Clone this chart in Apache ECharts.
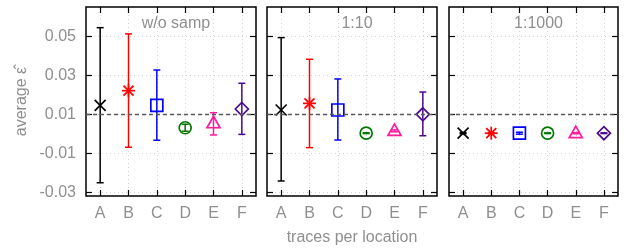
<!DOCTYPE html>
<html>
<head>
<meta charset="utf-8">
<script src="https://cdn.jsdelivr.net/npm/echarts@6/dist/echarts.min.js"></script>
<style>html,body{margin:0;padding:0;background:#fff}#c{width:626px;height:251px}</style>
</head>
<body>
<div id="c"></div>
<script>
const CATEGORIES = ['A', 'B', 'C', 'D', 'E', 'F'];
const PANEL_TITLES = ['w/o samp', '1:10', '1:1000'];
const Y_TICKS = [-0.03, -0.01, 0.01, 0.03, 0.05];
const REF_VALUE = 0.01;

const MEAN_WO = [0.0146, 0.0221, 0.0146, 0.0031, 0.0054, 0.0127];
const LOW_WO  = [-0.0251, -0.0069, -0.0033, 0.0013, -0.0006, -0.0003];
const HIGH_WO = [0.0544, 0.0512, 0.0327, 0.0049, 0.0108, 0.0259];

const MEAN_10 = [0.0122, 0.0156, 0.0122, 0.0003, 0.0015, 0.0100];
const LOW_10  = [-0.0242, -0.0071, -0.0032, 0.0001, 0.0010, -0.0010];
const HIGH_10 = [0.0493, 0.0382, 0.0281, 0.0005, 0.0020, 0.0214];

const MEAN_1000 = [0.0003, 0.0003, 0.0003, 0.0003, 0.0003, 0.0003];
const LOW_1000  = [0.0000, 0.0000, -0.0002, 0.0001, 0.0000, 0.0001];
const HIGH_1000 = [0.0006, 0.0006, 0.0008, 0.0005, 0.0006, 0.0005];

const PANELS = [
  [MEAN_WO, LOW_WO, HIGH_WO],
  [MEAN_10, LOW_10, HIGH_10],
  [MEAN_1000, LOW_1000, HIGH_1000]
];

const COLORS = ['#000000', '#ff0000', '#0000ff', '#007800', '#ff1a9c', '#4b0a8c'];
const SHAPES = ['cross', 'star', 'square', 'circle', 'triangle', 'diamond'];

const X_TICKS = CATEGORIES.map((c, i) => i);
const GRID_LEFT = [86, 267, 449];
const GRID_WIDTH = [170, 170, 169];
const FONT = 'Liberation Sans, Arial, Helvetica, sans-serif';
const TXT = '#8f8f8f';
const Y_MIN = -0.0319, Y_MAX = 0.065;

function marker(shape, x, y, color) {
  const st = { stroke: color, lineWidth: 1.7, fill: 'none' };
  const L = (x1, y1, x2, y2) => ({ type: 'line', shape: { x1: x + x1, y1: y + y1, x2: x + x2, y2: y + y2 }, style: st });
  switch (shape) {
    case 'cross': return [L(-5.5, -5.5, 5.5, 5.5), L(-5.5, 5.5, 5.5, -5.5)];
    case 'star': return [L(-6.5, 0, 6.5, 0), L(0, -6.5, 0, 6.5), L(-5, -5, 5, 5), L(-5, 5, 5, -5)];
    case 'square': return [{ type: 'rect', shape: { x: x - 6, y: y - 6, width: 12, height: 12 }, style: st }];
    case 'circle': return [{ type: 'circle', shape: { cx: x, cy: y, r: 6 }, style: st }];
    case 'triangle': return [{ type: 'polygon', shape: { points: [[x, y - 7], [x + 6.5, y + 4.5], [x - 6.5, y + 4.5]] }, style: st }];
    case 'diamond': return [{ type: 'polygon', shape: { points: [[x, y - 6.5], [x + 6.5, y], [x, y + 6.5], [x - 6.5, y]] }, style: st }];
  }
  return [];
}

function renderItem(params, api) {
  const i = api.value(0);
  const m = api.coord([i, api.value(1)]);
  const lo = api.coord([i, api.value(2)]);
  const hi = api.coord([i, api.value(3)]);
  const color = COLORS[i];
  const st = { stroke: color, lineWidth: 1.5, fill: 'none' };
  const cap = 3.5;
  const children = [
    { type: 'line', shape: { x1: m[0], y1: hi[1], x2: m[0], y2: lo[1] }, style: st },
    { type: 'line', shape: { x1: m[0] - cap, y1: hi[1], x2: m[0] + cap, y2: hi[1] }, style: st },
    { type: 'line', shape: { x1: m[0] - cap, y1: lo[1], x2: m[0] + cap, y2: lo[1] }, style: st }
  ].concat(marker(SHAPES[i], m[0], m[1], color));
  return { type: 'group', children };
}

const grids = [], xAxes = [], yAxes = [], series = [], titles = [];
const tickStyle = { color: '#000', width: 1.2 };
const gridLine = { show: true, lineStyle: { type: [1, 3], color: '#d4d4d4', width: 1 } };
PANELS.forEach((panel, p) => {
  grids.push({ left: GRID_LEFT[p], width: GRID_WIDTH[p], top: 7, height: 189, show: true, borderColor: '#000', borderWidth: 1.5, backgroundColor: 'transparent' });
  titles.push({ text: PANEL_TITLES[p], left: GRID_LEFT[p] + GRID_WIDTH[p] / 2, top: 11, textAlign: 'center',
    textStyle: { color: TXT, fontSize: 16, fontWeight: 'normal', fontFamily: FONT } });
  const xBase = { type: 'value', gridIndex: p, min: -0.5, max: 5.5, axisLine: { show: false, onZero: false } };
  xAxes.push(Object.assign({}, xBase, {
    position: 'bottom',
    axisTick: { inside: true, length: 6, customValues: X_TICKS, lineStyle: tickStyle },
    axisLabel: { customValues: X_TICKS, formatter: v => CATEGORIES[Math.round(v)], color: TXT, fontSize: 16, fontFamily: FONT, margin: 10 },
    splitLine: gridLine,
    name: p === 1 ? 'traces per location' : '', nameLocation: 'middle', nameGap: 34,
    nameTextStyle: { color: TXT, fontSize: 16, fontFamily: FONT }
  }));
  xAxes.push(Object.assign({}, xBase, {
    position: 'top',
    axisTick: { inside: true, length: 6, customValues: X_TICKS, lineStyle: tickStyle },
    axisLabel: { show: false }, splitLine: { show: false }
  }));
  const yBase = { type: 'value', gridIndex: p, min: Y_MIN, max: Y_MAX, axisLine: { show: false, onZero: false } };
  yAxes.push(Object.assign({}, yBase, {
    position: 'left',
    axisTick: { inside: true, length: 6, customValues: Y_TICKS, lineStyle: tickStyle },
    axisLabel: { show: p === 0, customValues: Y_TICKS, formatter: v => v.toFixed(2), color: TXT, fontSize: 16, fontFamily: FONT, margin: 10 },
    splitLine: gridLine,
    name: p === 0 ? 'average \u03b5\u0302' : '', nameLocation: 'middle', nameGap: 56,
    nameTextStyle: { color: TXT, fontSize: 16, fontFamily: FONT }
  }));
  yAxes.push(Object.assign({}, yBase, {
    position: 'right',
    axisTick: { inside: true, length: 6, customValues: Y_TICKS, lineStyle: tickStyle },
    axisLabel: { show: false }, splitLine: { show: false }
  }));
  const [mean, low, high] = panel;
  series.push({
    type: 'custom', xAxisIndex: p * 2, yAxisIndex: p * 2, renderItem,
    data: CATEGORIES.map((c, i) => [i, mean[i], low[i], high[i]]),
    encode: { x: 0, y: [1, 2, 3] }, clip: false, z: 3,
    markLine: { silent: true, symbol: 'none', animation: false, label: { show: false },
      lineStyle: { type: [4, 3], color: '#5a5a5a', width: 1.3 }, data: [{ yAxis: REF_VALUE }] }
  });
});

const chart = echarts.init(document.getElementById('c'), null, { renderer: 'canvas' });
chart.setOption({ animation: false, title: titles, grid: grids, xAxis: xAxes, yAxis: yAxes, series });
</script>
</body>
</html>
